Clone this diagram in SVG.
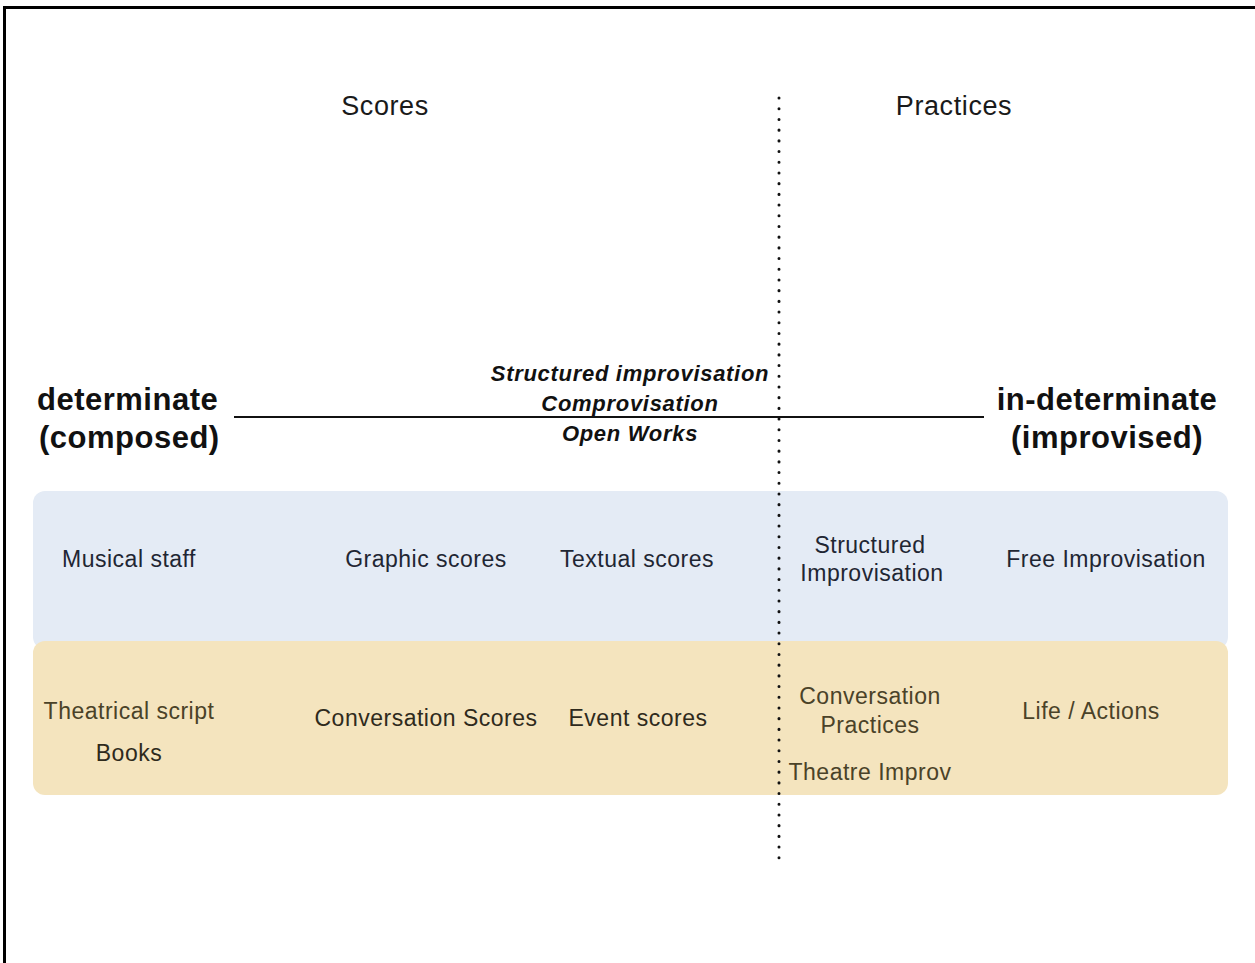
<svg xmlns="http://www.w3.org/2000/svg" width="1255" height="963" viewBox="0 0 1255 963">
  <style>
    text { font-family: "Liberation Sans", Arial, sans-serif; }
    .head { font-size: 27px; letter-spacing: 0.6px; fill: #1a1a1a; text-anchor: middle; }
    .pole { font-size: 31px; letter-spacing: 0.5px; font-weight: bold; fill: #111; }
    .mid { font-size: 22px; letter-spacing: 0.7px; font-weight: bold; font-style: italic; fill: #111; text-anchor: middle; }
    .blue { font-size: 23px; letter-spacing: 0.5px; fill: #1f2633; text-anchor: middle; }
    .sand { font-size: 23px; letter-spacing: 0.5px; fill: #2e2a1c; text-anchor: middle; }
    .olive { fill: #4a4228; }
  </style>

  <rect x="0" y="0" width="1255" height="963" fill="#ffffff"/>
  <!-- outer frame (open on right and bottom) -->
  <path d="M4.5 963 V7.5 H1255" fill="none" stroke="#000" stroke-width="3"/>

  <!-- bands -->
  <g id="band-scores-practices">
    <rect x="33" y="491" width="1195" height="158" rx="12" fill="#e4ebf5"/>
  </g>
  <g id="band-everyday">
    <rect x="33" y="641" width="1195" height="154" rx="12" fill="#f4e4be"/>
  </g>

  <!-- axis and divider -->
  <g id="connectors">
    <line x1="234" y1="417" x2="984" y2="417" stroke="#111" stroke-width="2"/>
    <line x1="779" y1="98" x2="779" y2="858" stroke="#111" stroke-width="3" stroke-linecap="round" stroke-dasharray="0.1 10.6"/>
  </g>

  <g id="heading-scores"><text class="head" x="385" y="115">Scores</text></g>
  <g id="heading-practices"><text class="head" x="954" y="115">Practices</text></g>

  <g id="pole-determinate">
    <text class="pole" x="37" y="410">determinate</text>
    <text class="pole" x="39" y="448">(composed)</text>
  </g>
  <g id="pole-indeterminate">
    <text class="pole" x="1107" y="410" text-anchor="middle">in-determinate</text>
    <text class="pole" x="1107" y="448" text-anchor="middle">(improvised)</text>
  </g>

  <g id="middle-terms">
    <text class="mid" x="630" y="381">Structured improvisation</text>
    <text class="mid" x="630" y="411">Comprovisation</text>
    <text class="mid" x="630" y="441">Open Works</text>
  </g>

  <g id="musical-staff"><text class="blue" x="129" y="567">Musical staff</text></g>
  <g id="graphic-scores"><text class="blue" x="426" y="567">Graphic scores</text></g>
  <g id="textual-scores"><text class="blue" x="637" y="567">Textual scores</text></g>
  <g id="structured-improvisation">
    <text class="blue" x="870" y="553">Structured</text>
    <text class="blue" x="872" y="581">Improvisation</text>
  </g>
  <g id="free-improvisation"><text class="blue" x="1106" y="567">Free Improvisation</text></g>

  <g id="theatrical-script"><text class="sand olive" x="129" y="719">Theatrical script</text></g>
  <g id="books"><text class="sand" x="129" y="761">Books</text></g>
  <g id="conversation-scores"><text class="sand" x="426" y="726">Conversation Scores</text></g>
  <g id="event-scores"><text class="sand" x="638" y="726">Event scores</text></g>
  <g id="conversation-practices">
    <text class="sand olive" x="870" y="704">Conversation</text>
    <text class="sand olive" x="870" y="733">Practices</text>
  </g>
  <g id="theatre-improv"><text class="sand olive" x="870" y="780">Theatre Improv</text></g>
  <g id="life-actions"><text class="sand olive" x="1091" y="719">Life / Actions</text></g>
</svg>
